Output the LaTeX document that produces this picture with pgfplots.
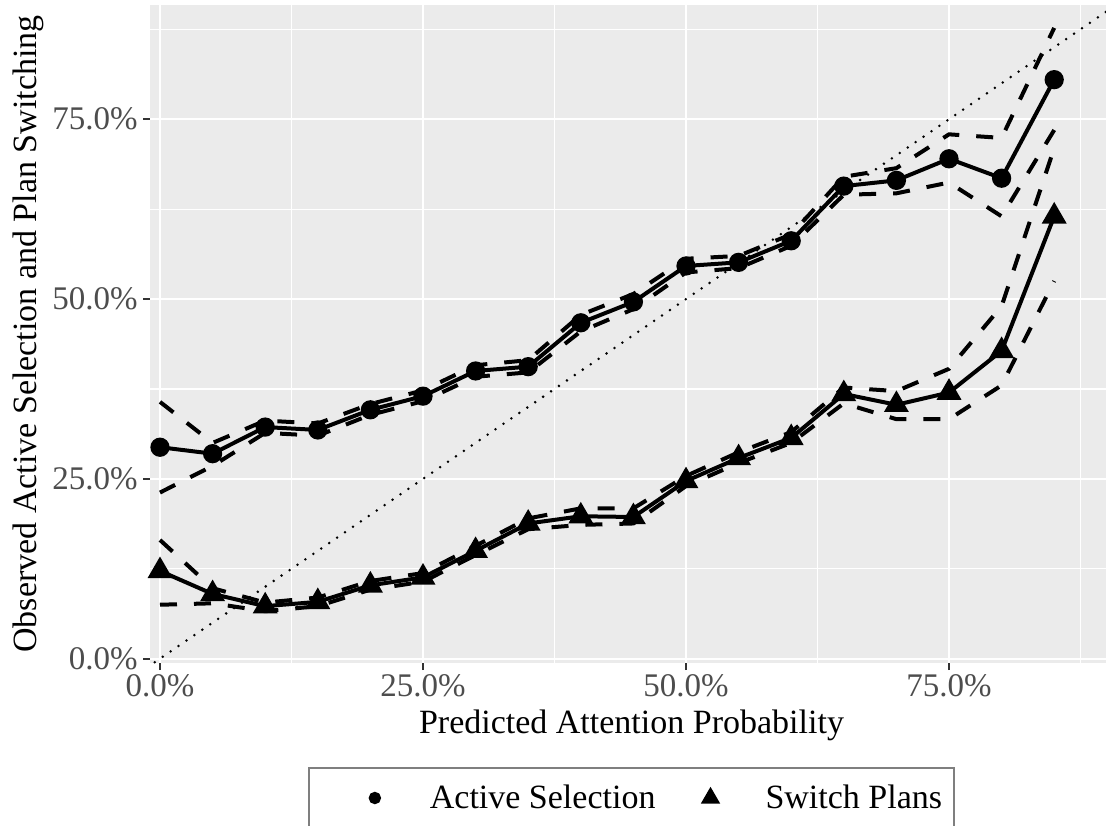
\documentclass[border=0pt]{standalone}
\usepackage{pgfplots}
\usepackage{pgfplotstable}
\pgfplotsset{compat=1.18}
\usepackage{fontspec}
\setmainfont{Liberation Serif}
\definecolor{panel}{HTML}{EBEBEB}
\definecolor{tickgray}{HTML}{4D4D4D}
\definecolor{tickmark}{HTML}{333333}
\definecolor{legbox}{HTML}{7F7F7F}

% x  y  lo  hi
\pgfplotstableread{
x y lo hi
0.00 0.294 0.231 0.357
0.05 0.285 0.268 0.300
0.10 0.322 0.314 0.331
0.15 0.318 0.310 0.327
0.20 0.346 0.339 0.354
0.25 0.365 0.358 0.373
0.30 0.400 0.392 0.408
0.35 0.406 0.398 0.415
0.40 0.467 0.455 0.478
0.45 0.496 0.486 0.507
0.50 0.546 0.537 0.556
0.55 0.551 0.543 0.560
0.60 0.581 0.574 0.590
0.65 0.657 0.645 0.670
0.70 0.665 0.647 0.682
0.75 0.695 0.662 0.729
0.80 0.668 0.615 0.724
0.85 0.805 0.735 0.877
}\activetab

\pgfplotstableread{
x y lo hi
0.00 0.122 0.075 0.165
0.05 0.090 0.077 0.098
0.10 0.073 0.066 0.078
0.15 0.079 0.073 0.085
0.20 0.102 0.096 0.108
0.25 0.113 0.107 0.119
0.30 0.150 0.144 0.157
0.35 0.188 0.180 0.195
0.40 0.198 0.186 0.209
0.45 0.197 0.188 0.209
0.50 0.247 0.240 0.254
0.55 0.279 0.272 0.287
0.60 0.307 0.300 0.315
0.65 0.368 0.355 0.377
0.70 0.353 0.333 0.372
0.75 0.370 0.333 0.403
0.80 0.428 0.380 0.490
0.85 0.615 0.525 0.710
}\switchtab

\begin{document}
\begin{tikzpicture}
\begin{axis}[
  at={(75pt,-2.5pt)}, anchor=north west,
  scale only axis, width=481.5pt, height=329pt,
  xmin=-0.0095, xmax=0.9059, ymin=-0.006, ymax=0.9088,
  axis background/.style={fill=panel},
  axis line style={draw=none},
  xtick={0,0.25,0.5,0.75}, ytick={0,0.25,0.5,0.75},
  xticklabels={0.0\%,25.0\%,50.0\%,75.0\%},
  yticklabels={0.0\%,25.0\%,50.0\%,75.0\%},
  minor xtick={0.125,0.375,0.625,0.875},
  minor ytick={0.125,0.375,0.625,0.875},
  grid=both,
  major grid style={white, line width=1.1pt},
  minor grid style={white, line width=0.55pt},
  xtick pos=bottom, ytick pos=left,
  tick align=outside,
  major tick length=3.5pt, minor tick length=0pt,
  tick style={color=tickmark, line width=1pt},
  xticklabel style={font=\fontsize{16.5}{16.5}\selectfont, text=tickgray, anchor=north, inner sep=0pt, yshift=-2pt},
  yticklabel style={font=\fontsize{16.5}{16.5}\selectfont, text=tickgray, anchor=east, inner sep=0pt, xshift=-2.5pt},
  xlabel={Predicted Attention Probability},
  ylabel={Observed Active Selection and Plan Switching},
  xlabel style={at={(axis description cs:0.5,0)}, anchor=north, inner sep=0pt, yshift=-23.5pt, font=\fontsize{17}{17}\selectfont},
  ylabel style={at={(axis description cs:-0.1423,0.5)}, anchor=north, inner sep=0pt, font=\fontsize{17}{17}\selectfont},
  legend style={at={(axis description cs:0.5,0)}, anchor=north, yshift=-52pt,
    draw=legbox, line width=1pt, inner sep=0pt, font=\fontsize{17}{17}\selectfont,
    /tikz/column sep=0pt, nodes={inner sep=0pt, draw=none}},
  legend columns=2,
  legend cell align=left,
]
% diagonal reference
\addplot[black, line width=1.4pt, line cap=round, dash pattern=on 0pt off 4.8pt, forget plot] coordinates {(-0.02,-0.02) (0.95,0.95)};
% CIs
\addplot[black, line width=2pt, dash pattern=on 8.5pt off 8.5pt, forget plot] table[x=x,y=lo] {\activetab};
\addplot[black, line width=2pt, dash pattern=on 8.5pt off 8.5pt, forget plot] table[x=x,y=hi] {\activetab};
\addplot[black, line width=2pt, dash pattern=on 8.5pt off 8.5pt, forget plot] table[x=x,y=lo] {\switchtab};
\addplot[black, line width=2pt, dash pattern=on 8.5pt off 8.5pt, forget plot] table[x=x,y=hi] {\switchtab};
% main series
\addplot[black, line width=2pt, mark=*, mark size=3.8pt, mark options={solid, fill=black}, forget plot] table[x=x,y=y] {\activetab};
\addplot[black, line width=2pt, mark=triangle*, mark size=5.2pt, mark options={solid, fill=black}, forget plot] table[x=x,y=y] {\switchtab};
% legend
\addlegendimage{legend image code/.code={\path[draw=none, fill=none] (0pt,-15pt) rectangle (60.5pt,15pt); \fill[black] (33pt,0pt) circle (2.6pt);}}
\addlegendentry{Active Selection}
\addlegendimage{legend image code/.code={\path[draw=none, fill=none] (0pt,-15pt) rectangle (55pt,15pt); \draw[black, only marks, mark=triangle*, mark size=4.6pt, mark options={fill=black}] plot coordinates {(27.5pt,0pt)};}}
\addlegendentry{Switch Plans\hspace*{6pt}}
\end{axis}
\pgfresetboundingbox
\path[use as bounding box] (0,0) rectangle (553pt,-412.5pt);
\end{tikzpicture}
\end{document}
